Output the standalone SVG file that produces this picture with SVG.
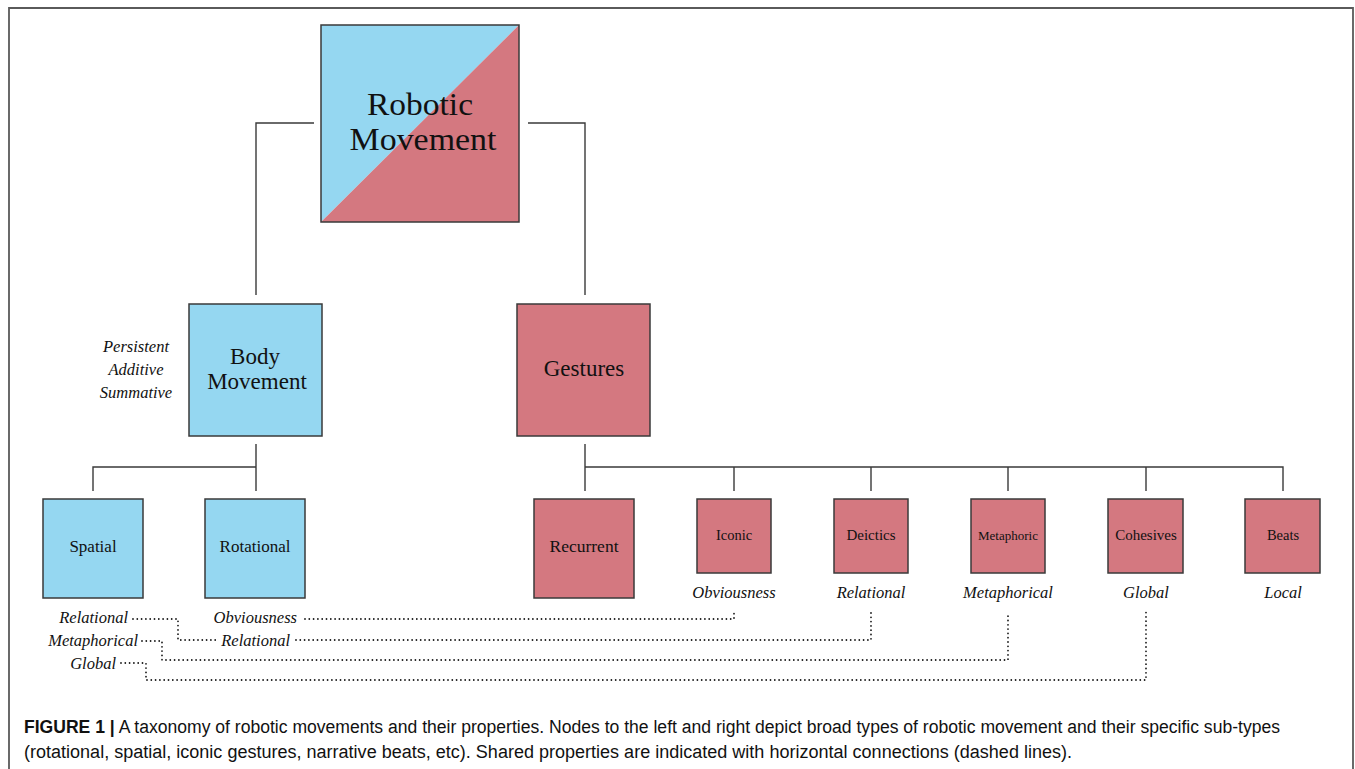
<svg xmlns="http://www.w3.org/2000/svg" width="1355" height="769" viewBox="0 0 1355 769">
  <style>
    .box { stroke: #3a3a3a; stroke-width: 1.5; }
    .blue { fill: #95d7f1; }
    .pink { fill: #d47880; }
    .lbl { font-family: "Liberation Serif", "DejaVu Serif", serif; fill: #111; text-anchor: middle; }
    .prop { font-family: "Liberation Serif", "DejaVu Serif", serif; font-style: italic; font-size: 16.5px; fill: #111; }
    .tree { fill: none; stroke: #3a3a3a; stroke-width: 1.4; }
    .dots { fill: none; stroke: #1a1a1a; stroke-width: 1.8; stroke-dasharray: 0 4.3; stroke-linecap: round; }
    .cap { font-family: "Liberation Sans", Arial, sans-serif; font-size: 18px; fill: #111; }
  </style>

  <rect width="1355" height="769" fill="#ffffff"/>
  <!-- outer frame, open at the bottom -->
  <path d="M9,769 V8 H1353 V769" fill="none" stroke="#5a5a5a" stroke-width="1.8"/>

  <!-- hierarchy connectors and shared-property links -->
  <g id="connectors">
    <path class="tree" d="M314,123 H256 V295"/>
    <path class="tree" d="M528,123 H585 V295"/>
    <path class="tree" d="M256,444 V491 M256,467 H93 V491"/>
    <path class="tree" d="M585,444 V491 M585,467 H1283 V491 M734,467 V491 M871,467 V491 M1008,467 V491 M1146,467 V491"/>

    <path class="dots" d="M133,619 H178 V640 H218"/>
    <path class="dots" d="M296,640 H871 V612"/>
    <path class="dots" d="M305,619 H734 V612"/>
    <path class="dots" d="M142,641 H162 V660 H1008 V612"/>
    <path class="dots" d="M121,663 H146 V680 H1146 V612"/>
  </g>

  <g id="robotic-movement">
    <polygon class="blue" points="321,25 519,25 321,222"/>
    <polygon class="pink" points="519,25 519,222 321,222"/>
    <rect class="box" x="321" y="25" width="198" height="197" fill="none"/>
    <text class="lbl" x="420" y="115" font-size="31" textLength="106" lengthAdjust="spacingAndGlyphs">Robotic</text>
    <text class="lbl" x="423" y="150" font-size="31" textLength="147" lengthAdjust="spacingAndGlyphs">Movement</text>
  </g>

  <g id="body-movement">
    <rect class="box blue" x="189" y="304" width="133" height="132"/>
    <text class="lbl" x="255" y="364" font-size="23">Body</text>
    <text class="lbl" x="257" y="389" font-size="23">Movement</text>
    <text class="prop" x="136" y="352" text-anchor="middle">Persistent</text>
    <text class="prop" x="136" y="375" text-anchor="middle">Additive</text>
    <text class="prop" x="136" y="398" text-anchor="middle">Summative</text>
  </g>

  <g id="gestures">
    <rect class="box pink" x="517" y="304" width="133" height="132"/>
    <text class="lbl" x="584" y="376" font-size="23">Gestures</text>
  </g>

  <g id="spatial">
    <rect class="box blue" x="43" y="499" width="100" height="99"/>
    <text class="lbl" x="93" y="552" font-size="17">Spatial</text>
    <text class="prop" x="128" y="623" text-anchor="end">Relational</text>
    <text class="prop" x="138" y="646" text-anchor="end">Metaphorical</text>
    <text class="prop" x="116" y="669" text-anchor="end">Global</text>
  </g>

  <g id="rotational">
    <rect class="box blue" x="205" y="499" width="100" height="99"/>
    <text class="lbl" x="255" y="552" font-size="17">Rotational</text>
    <text class="prop" x="297" y="623" text-anchor="end">Obviousness</text>
    <text class="prop" x="290" y="646" text-anchor="end">Relational</text>
  </g>

  <g id="recurrent">
    <rect class="box pink" x="534" y="499" width="100" height="99"/>
    <text class="lbl" x="584" y="552" font-size="17.5">Recurrent</text>
  </g>

  <g id="iconic">
    <rect class="box pink" x="697" y="499" width="74" height="74"/>
    <text class="lbl" x="734" y="540" font-size="14.5">Iconic</text>
    <text class="prop" x="734" y="598" text-anchor="middle">Obviousness</text>
  </g>

  <g id="deictics">
    <rect class="box pink" x="834" y="499" width="74" height="74"/>
    <text class="lbl" x="871" y="540" font-size="15">Deictics</text>
    <text class="prop" x="871" y="598" text-anchor="middle">Relational</text>
  </g>

  <g id="metaphoric">
    <rect class="box pink" x="971" y="499" width="74" height="74"/>
    <text class="lbl" x="1008" y="540" font-size="13">Metaphoric</text>
    <text class="prop" x="1008" y="598" text-anchor="middle">Metaphorical</text>
  </g>

  <g id="cohesives">
    <rect class="box pink" x="1108" y="499" width="75" height="74"/>
    <text class="lbl" x="1146" y="540" font-size="15">Cohesives</text>
    <text class="prop" x="1146" y="598" text-anchor="middle">Global</text>
  </g>

  <g id="beats">
    <rect class="box pink" x="1245" y="499" width="75" height="74"/>
    <text class="lbl" x="1283" y="540" font-size="14.5">Beats</text>
    <text class="prop" x="1283" y="598" text-anchor="middle">Local</text>
  </g>

  <g id="caption">
    <text class="cap" x="24" y="733" textLength="1256" lengthAdjust="spacingAndGlyphs"><tspan font-weight="bold">FIGURE 1 |</tspan> A taxonomy of robotic movements and their properties. Nodes to the left and right depict broad types of robotic movement and their specific sub-types</text>
    <text class="cap" x="24" y="758" textLength="1048" lengthAdjust="spacingAndGlyphs">(rotational, spatial, iconic gestures, narrative beats, etc). Shared properties are indicated with horizontal connections (dashed lines).</text>
  </g>
</svg>
